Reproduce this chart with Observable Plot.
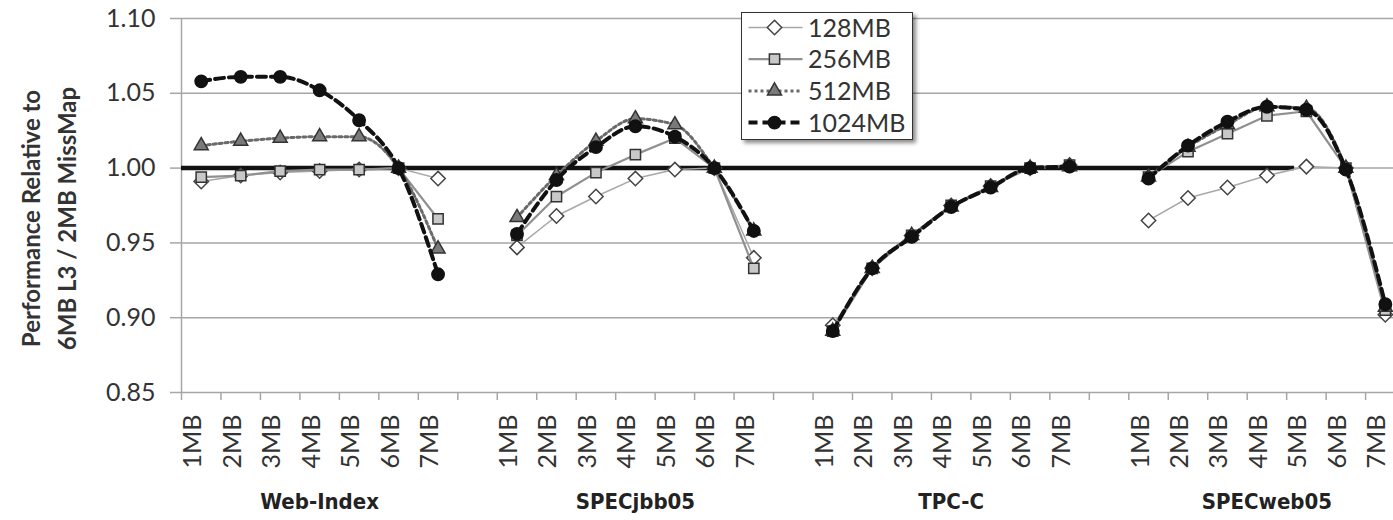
<!DOCTYPE html>
<html><head><meta charset="utf-8">
<script src="https://cdn.jsdelivr.net/npm/d3@7"></script>
<script src="https://cdn.jsdelivr.net/npm/@observablehq/plot@0.6"></script>
<style>
body{margin:0;background:#fff;overflow:hidden}
#wrap{position:relative;width:1393px;height:520px}
#legend{position:absolute;left:741px;top:12px;width:170px;height:126px;border:1.5px solid #333;background:#fff;box-shadow:3px 3px 4px rgba(0,0,0,0.45)}
#legend text{font-family:Lato,"Open Sans",sans-serif;font-size:25px;fill:#333}
</style></head><body><div id="wrap"></div>
<script>
// ---- data ----
const groups = ["Web-Index", "SPECjbb05", "TPC-C", "SPECweb05"];
const sizes = ["1MB", "2MB", "3MB", "4MB", "5MB", "6MB", "7MB"];
const seriesNames = ["128MB", "256MB", "512MB", "1024MB"];
// values per series: Web-Index, SPECjbb05, TPC-C, SPECweb05 (7 sizes each)
const values128 = [
  0.991, 0.995, 0.997, 0.998, 0.999, 1.000, 0.993,
  0.947, 0.968, 0.981, 0.993, 0.999, 1.000, 0.940,
  0.895, 0.933, 0.955, 0.975, 0.988, 1.000, 1.002,
  0.965, 0.980, 0.987, 0.995, 1.001, 1.000, 0.902
];
const values256 = [
  0.994, 0.995, 0.998, 0.999, 0.999, 1.000, 0.966,
  0.955, 0.981, 0.997, 1.009, 1.020, 1.000, 0.933,
  0.891, 0.933, 0.955, 0.975, 0.988, 1.000, 1.002,
  0.994, 1.011, 1.023, 1.035, 1.038, 1.000, 0.905
];
const values512 = [
  1.015, 1.018, 1.020, 1.021, 1.021, 1.000, 0.946,
  0.967, 0.995, 1.018, 1.033, 1.029, 1.000, 0.958,
  0.891, 0.933, 0.955, 0.974, 0.987, 1.000, 1.001,
  0.994, 1.014, 1.029, 1.041, 1.040, 1.000, 0.907
];
const values1024 = [
  1.058, 1.061, 1.061, 1.052, 1.032, 1.000, 0.929,
  0.956, 0.992, 1.014, 1.028, 1.021, 1.000, 0.958,
  0.891, 0.933, 0.954, 0.974, 0.987, 1.000, 1.001,
  0.993, 1.015, 1.031, 1.041, 1.039, 0.999, 0.909
];
const yTicks = [0.85, 0.90, 0.95, 1.00, 1.05, 1.10];
const referenceValue = 1.0;
const referenceEndSlot = 28.2;
const yTitle = "Performance Relative to\n6MB L3 / 2MB MissMap";

// ---- styles ----
const seriesStyle = {
  "128MB":  {line:"#a8a8a8", width:1.5, dash:null,  curve:"linear",    symbol:"diamond2", d3sym:d3.symbolDiamond2, r:6.5, fill:"#fff",    stroke:"#444"},
  "256MB":  {line:"#909090", width:2.2, dash:null,  curve:"linear",    symbol:"square",   d3sym:d3.symbolSquare,   r:5.8, fill:"#c8c8c8", stroke:"#333"},
  "512MB":  {line:"#6a6a6a", width:3,   dash:"3,3", curve:"monotone-x",symbol:"triangle", d3sym:d3.symbolTriangle, r:5.2, fill:"#7a7a7a", stroke:"#333"},
  "1024MB": {line:"#111",    width:4,   dash:"9,5", curve:"monotone-x",symbol:"circle",   d3sym:d3.symbolCircle,   r:6.2, fill:"#111",    stroke:"#111"}
};
const valuesBySeries = {"128MB": values128, "256MB": values256, "512MB": values512, "1024MB": values1024};
const slotsPerGroup = sizes.length + 1;
const slotOf = (gi, si) => gi * slotsPerGroup + si + 0.5;

const rows = [];
seriesNames.forEach(s => {
  const vals = valuesBySeries[s];
  groups.forEach((g, gi) => sizes.forEach((z, si) => {
    rows.push({series: s, group: g, size: z, slot: slotOf(gi, si), value: vals[gi * sizes.length + si]});
  }));
});
const labelRows = [];
groups.forEach((g, gi) => sizes.forEach((z, si) => labelRows.push({size: z, slot: slotOf(gi, si)})));
const groupRows = groups.map((g, gi) => ({name: g, center: gi * slotsPerGroup + sizes.length / 2}));

const W = 1393, ML = 181, slotW = 39.47;
const xMax = (W - ML) / slotW;

const marks = [
  Plot.gridY(yTicks, {stroke: "#a6a6a6", strokeOpacity: 1, strokeWidth: 1.5}),
  Plot.axisY(yTicks, {tickSize: 11, tickPadding: 15, tickFormat: d3.format(".2f"), stroke: "#a6a6a6", strokeWidth: 1.5, fill: "#333", fontSize: 25, label: null}),
  Plot.axisX(d3.range(0, 31), {tickSize: 8, tickFormat: () => "", stroke: "#a6a6a6", strokeWidth: 1.5, label: null}),
  Plot.ruleX([0], {stroke: "#a6a6a6", strokeWidth: 1.5}),
  Plot.ruleY([referenceValue], {x1: 0, x2: referenceEndSlot, stroke: "#111", strokeWidth: 4.5})
];
seriesNames.forEach(s => {
  const st = seriesStyle[s];
  const data = rows.filter(d => d.series === s);
  marks.push(Plot.line(data, {x: "slot", y: "value", z: "group", stroke: st.line, strokeWidth: st.width, strokeDasharray: st.dash, curve: st.curve}));
  marks.push(Plot.dot(data, {x: "slot", y: "value", symbol: st.symbol, r: st.r, fill: st.fill, stroke: st.stroke, strokeWidth: 1.5}));
});
marks.push(
  Plot.text(labelRows, {x: "slot", text: "size", frameAnchor: "bottom", rotate: -90, textAnchor: "end", dy: 22, fontSize: 25, fill: "#333"}),
  Plot.text(groupRows, {x: "center", text: "name", frameAnchor: "bottom", textAnchor: "middle", dy: 116, fontSize: 22, fontWeight: "bold", fontFamily: "'Liberation Sans Narrow','DejaVu Sans Condensed',sans-serif", fill: "#222"}),
  Plot.text([yTitle], {text: d => d, frameAnchor: "left", textAnchor: "middle", rotate: -90, dx: -135, dy: 13, lineHeight: 1.5, fontSize: 24, fontWeight: "bold", fill: "#333"})
);

const chart = Plot.plot({
  width: W, height: 520,
  marginLeft: ML, marginRight: 0, marginTop: 18, marginBottom: 128,
  x: {domain: [0, xMax]},
  y: {domain: [0.85, 1.10]},
  style: {fontFamily: "Lato, 'Open Sans', sans-serif", fontSize: "25px", color: "#333", background: "#fff"},
  marks
});
document.getElementById("wrap").appendChild(chart);

// legend overlay
const legend = d3.select("#wrap").append("div").attr("id", "legend");
const lsvg = legend.append("svg").attr("width", 170).attr("height", 126);
seriesNames.forEach((name, i) => {
  const st = seriesStyle[name];
  const g = lsvg.append("g").attr("transform", `translate(0,${14.5 + i * 31.7})`);
  g.append("line").attr("x1", 6.5).attr("x2", 60.5).attr("y1", 0).attr("y2", 0)
    .attr("stroke", st.line).attr("stroke-width", st.width).attr("stroke-dasharray", st.dash);
  g.append("path").attr("d", d3.symbol(st.d3sym, Math.PI * st.r * st.r)()).attr("transform", "translate(32.5,0)")
    .attr("fill", st.fill).attr("stroke", st.stroke).attr("stroke-width", 1.5);
  g.append("text").attr("x", 66).attr("dy", "0.36em").text(name);
});
</script></body></html>
